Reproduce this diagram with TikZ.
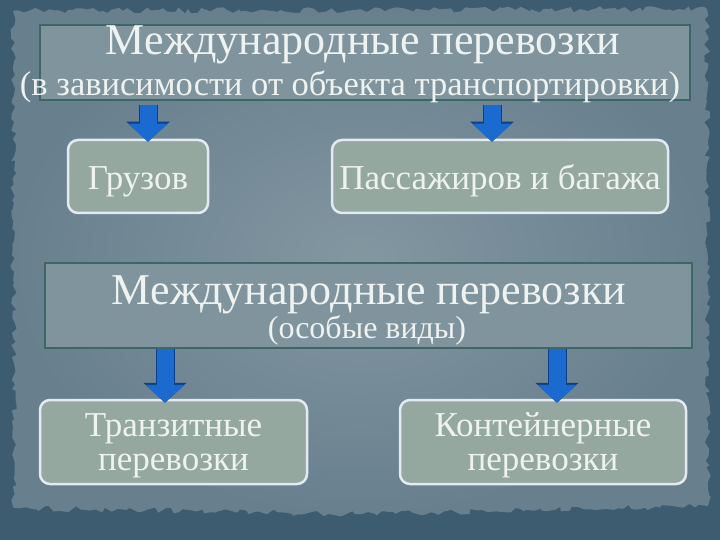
\documentclass[tikz,border=0pt]{standalone}
\usepackage{fontspec}
\setmainfont{Liberation Serif}
\usetikzlibrary{positioning,calc,arrows.meta,decorations.pathmorphing}

\definecolor{bgdark}{HTML}{3E5C70}
\definecolor{bgmid}{HTML}{8397A1}
\definecolor{bgedge}{HTML}{687F8E}
\definecolor{headline}{HTML}{3D6667}
\definecolor{headfill}{HTML}{7F949D}
\definecolor{leafline}{HTML}{E4EAF4}
\definecolor{leaffill}{HTML}{95A89F}
\definecolor{txt}{HTML}{EEF2F0}
\definecolor{arrowblue}{HTML}{1A6AD0}
\definecolor{arrowdark}{HTML}{0C3F86}

\newcommand{\topgap}{\rule{0pt}{30pt}}

\begin{document}
\begin{tikzpicture}[x=1pt,y=-1pt,
				headbox/.style={draw=headline,line width=1.5pt,fill=headfill,rectangle,inner sep=0pt},
				leafbox/.style={draw=leafline,line width=2.5pt,fill=leaffill,rounded corners=10pt,inner sep=0pt,
					text=txt,align=center,font=\fontsize{35}{34}\selectfont},
				oneline/.style={text height=27pt,text depth=0pt},
				headtext/.style={text=txt,inner sep=0pt,anchor=base},
				downarrow/.style={line width=17pt,draw=arrowblue,-{Triangle[length=18pt,width=38pt]},
					preaction={draw=arrowdark,line width=19pt,-{Triangle[length=20pt,width=42pt]}}}]
				\useasboundingbox (0,0) rectangle (720,540);
				% torn background
				\fill[bgdark] (0,0) rectangle (720,540);
				\pgfmathsetseed{7}
				\shade[inner color=bgmid,outer color=bgedge,decorate,
					decoration={random steps,segment length=5pt,amplitude=3pt}]
					(13,11) -- (707,9) -- (708,506) -- (360,514) -- (14,508) -- cycle;

				\node (head)    [headbox,minimum width=650pt,minimum height=75pt] at (365,62.5) {};
				\node (headA)   [headtext,font=\fontsize{44}{44}\selectfont] at (363,55) {Международные перевозки};
				\node (headB)   [headtext,font=\fontsize{34.5}{34.5}\selectfont] at (350,96) {(в зависимости от объекта транспортировки)};
				\node (cargo)   [leafbox,oneline,minimum width=140pt,minimum height=73pt] at (138,176.5) {Грузов};
				\node (pass)    [leafbox,oneline,minimum width=336pt,minimum height=73pt] at (500,176.5) {Пассажиров и багажа};

				\node (spec)    [headbox,minimum width=647pt,minimum height=85pt] at (368.5,305.5) {};
				\node (specA)   [headtext,font=\fontsize{44}{44}\selectfont] at (369,304) {Международные перевозки};
				\node (specB)   [headtext,font=\fontsize{32}{32}\selectfont] at (367,338) {(особые виды)};
				\node (transit) [leafbox,minimum width=267pt,minimum height=84pt] at (173.5,442) {\topgap Транзитные\\перевозки};
				\node (cont)    [leafbox,minimum width=286pt,minimum height=84pt] at (543,442) {\topgap Контейнерные\\перевозки};

				\draw[downarrow] ([shift={(10pt,-4pt)}]cargo.north |- head.south) -- ([shift={(10pt,-3pt)}]cargo.north);
				\draw[downarrow] ([shift={(-8pt,-4pt)}]pass.north |- head.south) -- ([shift={(-8pt,-3pt)}]pass.north);
				\draw[downarrow] ([xshift=-8.5pt]transit.north |- spec.south) -- ([shift={(-8.5pt,-4pt)}]transit.north);
				\draw[downarrow] ([xshift=14pt]cont.north |- spec.south) -- ([shift={(14pt,-4pt)}]cont.north);
			\end{tikzpicture}
\end{document}
